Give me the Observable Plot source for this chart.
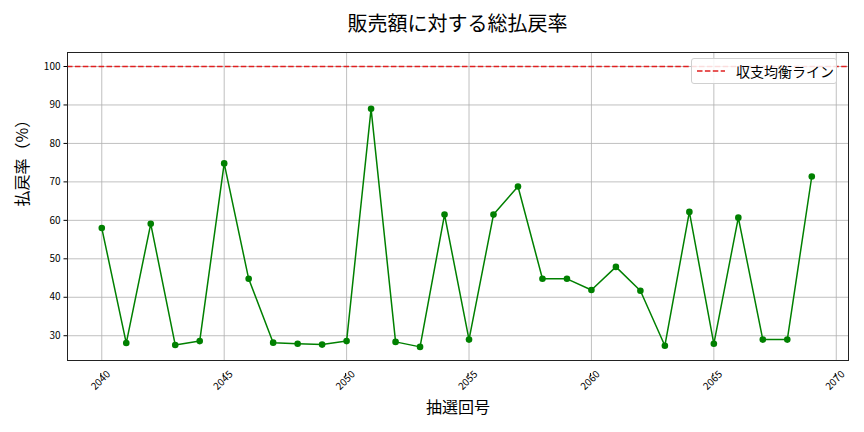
<!DOCTYPE html>
<html>
<head>
<meta charset="utf-8">
<script src="https://cdn.jsdelivr.net/npm/d3@7"></script>
<script src="https://cdn.jsdelivr.net/npm/@observablehq/plot@0.6"></script>
<style>
  body { margin: 0; background: #fff; }
  #wrap { position: relative; width: 864px; height: 432px; font-family: "Noto Sans CJK JP", sans-serif; }
  #title { position: absolute; left: 0; top: 8px; width: 915px; text-align: center; font-size: 20px; color: #000; }
  #legend { position: absolute; left: 691px; top: 58px; width: 146px; height: 26px; box-sizing: border-box;
            border: 1px solid #d0d0d0; border-radius: 3px; background: rgba(255,255,255,0.85);
            display: flex; align-items: center; font-size: 14px; color: #000; }
  #legend svg { margin-left: 5px; margin-right: 11px; }
</style>
</head>
<body>
<div id="wrap">
  <div id="title">販売額に対する総払戻率</div>
  <div id="legend"><svg width="28" height="6"><line x1="0" y1="3" x2="28" y2="3" stroke="#e02020" stroke-width="1.5" stroke-dasharray="5.5,2.4"/></svg><span>収支均衡ライン</span></div>
</div>
<script>
const draws = [2040,2041,2042,2043,2044,2045,2046,2047,2048,2049,2050,2051,2052,2053,2054,2055,2056,2057,2058,2059,2060,2061,2062,2063,2064,2065,2066,2067,2068,2069];
const rates = [58.0,28.1,59.1,27.6,28.6,74.8,44.8,28.2,27.9,27.7,28.6,89.0,28.4,27.1,61.5,29.0,61.5,68.8,44.8,44.8,41.9,47.9,41.7,27.4,62.2,27.9,60.7,29.0,29.0,71.4];
const xTicks = [2040,2045,2050,2055,2060,2065,2070];
const yTicks = [30,40,50,60,70,80,90,100];
const breakEven = [100];
const titleText = "販売額に対する総払戻率";
const xLabel = "抽選回号";
const yLabel = "払戻率（%）";

const data = draws.map((d, i) => ({draw: d, rate: rates[i]}));
const font = "Noto Sans CJK JP";

const chart = Plot.plot({
  width: 864,
  height: 432,
  marginLeft: 67,
  marginRight: 16,
  marginTop: 52,
  marginBottom: 72,
  style: {fontFamily: font, background: "transparent"},
  x: {domain: [2038.6, 2070.5]},
  y: {domain: [23.56, 103.64]},
  marks: [
    Plot.gridX(xTicks, {stroke: "#b0b0b0", strokeOpacity: 1, strokeWidth: 0.8}),
    Plot.gridY(yTicks, {stroke: "#b0b0b0", strokeOpacity: 1, strokeWidth: 0.8}),
    Plot.ruleY(breakEven, {stroke: "#e02020", strokeWidth: 1.5, strokeDasharray: "5.5,2.4"}),
    Plot.line(data, {x: "draw", y: "rate", stroke: "green", strokeWidth: 1.5}),
    Plot.dot(data, {x: "draw", y: "rate", fill: "green", r: 3.3}),
    Plot.frame({stroke: "#222", strokeWidth: 1}),
    Plot.axisX(xTicks, {tickSize: 3.5, tickRotate: -45, textAnchor: "middle", tickPadding: 3.5, dy: 13, dx: -1, fontSize: 10, label: null, tickFormat: d => String(d)}),
    Plot.axisY(yTicks, {tickSize: 3.5, tickPadding: 3.5, fontSize: 10, label: null}),
    Plot.text([xLabel], {frameAnchor: "bottom", dy: 52, fontSize: 16, fill: "#000"}),
    Plot.text([yLabel], {frameAnchor: "left", dx: -45, rotate: -90, fontSize: 16, fill: "#000"})
  ]
});
document.getElementById("wrap").prepend(chart);
chart.style.position = "absolute";
chart.style.left = "0";
chart.style.top = "0";
</script>
</body>
</html>
